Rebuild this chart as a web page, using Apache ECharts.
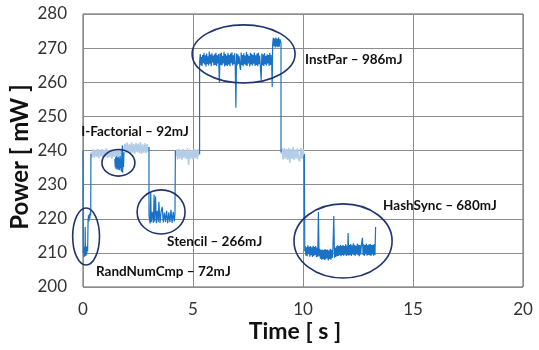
<!DOCTYPE html>
<html><head><meta charset="utf-8">
<script src="https://cdn.jsdelivr.net/npm/echarts@6/dist/echarts.min.js"></script>
<style>html,body{margin:0;padding:0;background:#fff}#c{width:539px;height:350px}</style>
</head><body><div id="c"></div>
<script>
// ---- data (time [s], power [mW]) ----
const benchmarks = ['RandNumCmp', 'I-Factorial', 'Stencil', 'InstPar', 'HashSync'];
const energyMJ = [72, 92, 266, 986, 680];

const randNumCmp = [[0,240],[0.01,210],[0.03,212],[0.05,208.8],[0.07,211.5],[0.09,209],[0.10,217.6],[0.11,212],[0.13,209.2],[0.15,211.8],[0.17,209.5],[0.19,212],[0.21,210.5],[0.23,219.5],[0.25,221],[0.27,219.2],[0.29,221.4],[0.31,220],[0.33,221.8],[0.35,221],[0.36,239]];

const iFactorial = [[1.45,237.5],[1.47,235],[1.49,238],[1.51,234.5],[1.53,238.3],[1.55,234.8],[1.57,237.9],[1.59,234.3],[1.61,238.1],[1.63,234.6],[1.65,237.7],[1.67,234.2],[1.69,238.4],[1.71,234.9],[1.73,237.6],[1.75,233.8],[1.77,239.0],[1.79,241.5],[1.80,233.5],[1.82,237.5],[1.84,235.2],[1.86,239.5]];

const stencil = [[3.00,241],[3.00,221],[3.05,218.6],[3.08,227.6],[3.10,219.0],[3.15,222.0],[3.20,218.8],[3.23,227.0],[3.25,219.2],[3.30,226.5],[3.33,218.7],[3.38,222.3],[3.42,219.0],[3.45,225.0],[3.50,218.8],[3.55,222.1],[3.60,223.5],[3.65,218.9],[3.70,221.8],[3.75,219.1],[3.80,222.3],[3.85,218.7],[3.90,221.9],[3.95,219.0],[4.00,222.6],[4.05,218.8],[4.10,222.0],[4.15,219.2],[4.18,221.5],[4.20,240]];

const instPar = [[5.30,239],[5.30,266],[5.33,268.3],[5.36,265.0],[5.38,267.4],[5.41,264.8],[5.44,268.0],[5.47,265.6],[5.50,268.6],[5.53,265.2],[5.56,267.9],[5.59,264.6],[5.62,268.4],[5.65,265.3],[5.68,267.6],[5.71,264.9],[5.74,269.0],[5.77,265.4],[5.80,268.1],[5.83,264.7],[5.86,268.5],[5.89,265.8],[5.92,267.8],[5.95,264.9],[5.98,268.2],[6.01,265.1],[6.04,268.6],[6.07,264.8],[6.10,267.9],[6.13,265.5],[6.16,268.3],[6.20,259.8],[6.23,268.4],[6.26,265.1],[6.29,268.7],[6.32,264.9],[6.35,267.7],[6.38,265.5],[6.41,268.9],[6.44,264.6],[6.47,268.3],[6.50,265.0],[6.53,267.8],[6.56,264.8],[6.59,268.6],[6.62,265.2],[6.65,268.0],[6.68,264.7],[6.71,268.4],[6.74,265.6],[6.77,268.8],[6.80,264.9],[6.83,267.9],[6.86,265.3],[6.89,268.5],[6.92,265.0],[6.95,252.5],[6.98,268.4],[7.01,264.9],[7.04,268.2],[7.07,265.4],[7.10,267.6],[7.13,264.8],[7.16,263.6],[7.19,268.7],[7.22,265.1],[7.25,268.0],[7.28,264.7],[7.31,268.5],[7.34,265.3],[7.37,267.8],[7.40,265.0],[7.43,268.9],[7.46,264.8],[7.49,268.2],[7.52,265.5],[7.55,267.7],[7.58,264.6],[7.61,268.6],[7.64,265.2],[7.67,268.3],[7.70,264.9],[7.73,268.0],[7.76,265.4],[7.79,268.7],[7.82,264.8],[7.85,267.9],[7.88,265.1],[7.91,268.4],[7.94,264.7],[7.97,268.6],[8.00,265.3],[8.03,267.8],[8.06,264.9],[8.10,260.7],[8.13,268.4],[8.16,265.0],[8.19,268.1],[8.22,264.8],[8.25,268.5],[8.28,265.3],[8.31,267.7],[8.34,264.9],[8.37,268.2],[8.40,265.5],[8.43,268.0],[8.46,264.8],[8.49,268.6],[8.52,265.1],[8.55,268.0],[8.58,264.9],[8.60,258.6],[8.62,271.0],[8.65,273.0],[8.68,270.6],[8.71,272.8],[8.74,270.2],[8.77,273.1],[8.80,270.5],[8.83,272.7],[8.86,270.3],[8.89,273.2],[8.92,270.4],[8.95,272.6],[9.00,271.5],[9.00,239.5]];

const hashSync = [[10.06,239],[10.08,210.5],[10.10,212.0],[10.13,209.2],[10.16,211.6],[10.19,209.0],[10.22,212.2],[10.25,209.6],[10.28,211.8],[10.31,208.9],[10.34,212.0],[10.37,209.3],[10.40,211.6],[10.43,208.8],[10.46,212.1],[10.49,209.1],[10.52,211.7],[10.55,209.4],[10.58,212.0],[10.61,208.7],[10.64,211.5],[10.67,208.9],[10.70,222.0],[10.73,209.0],[10.76,211.2],[10.79,208.3],[10.82,210.9],[10.85,208.0],[10.88,211.0],[10.91,208.2],[10.94,210.8],[10.97,207.9],[11.00,211.1],[11.03,208.1],[11.06,210.9],[11.09,208.4],[11.12,211.0],[11.15,207.8],[11.18,210.7],[11.21,208.2],[11.24,211.2],[11.27,208.0],[11.30,210.9],[11.33,208.5],[11.36,211.3],[11.40,220.8],[11.43,208.6],[11.46,211.5],[11.49,208.8],[11.52,211.9],[11.55,209.0],[11.58,212.2],[11.61,209.1],[11.64,212.0],[11.67,209.3],[11.70,212.4],[11.73,209.0],[11.76,212.1],[11.79,209.4],[11.82,212.3],[11.85,209.2],[11.88,212.0],[11.91,209.5],[11.94,212.5],[11.97,209.1],[12.00,212.1],[12.03,209.3],[12.05,215.8],[12.08,209.2],[12.11,212.3],[12.14,209.4],[12.17,212.6],[12.20,209.1],[12.23,212.2],[12.26,209.5],[12.29,212.8],[12.32,209.3],[12.35,212.4],[12.38,209.2],[12.41,212.1],[12.44,209.6],[12.47,212.7],[12.50,209.3],[12.53,212.4],[12.56,209.0],[12.59,212.3],[12.62,209.5],[12.65,212.1],[12.70,214.4],[12.73,209.4],[12.76,212.5],[12.79,209.1],[12.82,212.3],[12.85,209.6],[12.88,212.7],[12.91,209.2],[12.94,212.2],[12.97,209.4],[13.00,212.5],[13.03,209.3],[13.06,212.6],[13.09,209.1],[13.12,212.3],[13.15,209.5],[13.18,212.4],[13.21,209.2],[13.24,212.6],[13.27,209.4],[13.30,217.6]];

const idle1 = [[0.36,239.5],[0.41,238.0],[0.46,240.3],[0.51,237.9],[0.56,240.1],[0.61,238.2],[0.66,240.5],[0.71,237.7],[0.76,240.0],[0.81,238.3],[0.86,240.4],[0.91,237.9],[0.96,240.2],[1.01,238.1],[1.06,240.6],[1.11,237.8],[1.16,240.1],[1.21,238.0],[1.26,240.3],[1.31,237.6],[1.36,240.2],[1.41,238.2],[1.46,240.4],[1.51,238.0],[1.56,240.1],[1.61,237.9],[1.66,240.5],[1.71,238.1],[1.76,240.2],[1.81,238.0],[1.86,240.5],[1.91,242.0],[1.96,239.2],[2.01,242.3],[2.06,239.4],[2.11,241.8],[2.16,239.0],[2.21,242.4],[2.26,239.3],[2.31,241.9],[2.36,239.1],[2.41,242.2],[2.46,239.5],[2.51,242.0],[2.56,239.2],[2.61,242.5],[2.66,239.0],[2.71,241.8],[2.76,239.4],[2.81,242.1],[2.86,239.2],[2.91,241.9],[2.96,239.6],[3.00,240.8]];
const idle2 = [[4.20,238.5],[4.25,240.3],[4.30,237.4],[4.35,240.5],[4.40,237.6],[4.45,240.1],[4.50,237.3],[4.55,240.4],[4.60,237.8],[4.65,240.2],[4.70,237.5],[4.75,240.6],[4.80,235.8],[4.85,240.3],[4.90,237.6],[4.95,240.1],[5.00,237.4],[5.05,240.5],[5.10,237.7],[5.15,240.2],[5.20,237.5],[5.25,240.4],[5.30,238.6]];
const idle3 = [[9.00,239.0],[9.05,240.6],[9.10,237.4],[9.15,240.8],[9.20,237.6],[9.25,240.4],[9.30,237.3],[9.35,240.7],[9.40,236.4],[9.45,240.5],[9.50,237.5],[9.55,240.9],[9.60,237.2],[9.65,240.3],[9.70,237.7],[9.75,240.6],[9.80,237.4],[9.85,236.8],[9.90,240.7],[9.95,237.5],[10.00,240.4],[10.05,238.4]];

// ---- chart ----
const DARK = '#1a72c6', LIGHT = '#b3cde9', NAVY = '#1f3470';
const FONT = 'Lato, "Open Sans", sans-serif';

function line(data, color, z, w) {
  return { type: 'line', data: data, showSymbol: false, symbol: 'none', z: z,
    lineStyle: { color: color, width: w }, animation: false, silent: true, clip: false };
}

// annotation geometry in data units: centre t, centre P, radius t, radius P, label anchor t, P
const ann = [
  [0.14, 214.8, 0.61, 8.36, 0.59, 204.4],
  [1.61, 236.4, 0.75, 3.9, -0.08, 245.5],
  [3.55, 222.0, 1.09, 6.45, 3.82, 213.2],
  [7.30, 268.3, 2.34, 8.5, 10.09, 266.6],
  [11.82, 213.5, 2.23, 10.85, 13.64, 223.8]
];

const chart = echarts.init(document.getElementById('c'), null, { renderer: 'canvas' });
chart.setOption({
  animation: false,
  backgroundColor: '#fff',
  grid: { left: 83, top: 14, right: 16, bottom: 63, show: true, borderColor: '#5a5a5a', borderWidth: 1,
    containLabel: false, outerBoundsMode: 'none' },
  xAxis: {
    type: 'value', min: 0, max: 20, interval: 5,
    name: 'Time [ s ]', nameLocation: 'middle', nameGap: 33, nameMoveOverlap: false,
    nameTextStyle: { fontFamily: FONT, fontWeight: 'bold', fontSize: 23, color: '#111', padding: [0, 16, 0, 0] },
    axisLine: { show: false }, axisTick: { show: false },
    axisLabel: { fontFamily: FONT, fontSize: 17, color: '#333', margin: 14 },
    splitLine: { show: true, lineStyle: { color: '#8c8c8c', width: 1 } }
  },
  yAxis: {
    type: 'value', min: 200, max: 280, interval: 10,
    name: 'Power [ mW ]', nameLocation: 'middle', nameGap: 51, nameMoveOverlap: false,
    nameTextStyle: { fontFamily: FONT, fontWeight: 'bold', fontSize: 24, color: '#111', padding: [0, 13, 0, 0] },
    axisLine: { show: false }, axisTick: { show: false },
    axisLabel: { fontFamily: FONT, fontSize: 17, color: '#333', margin: 16 },
    splitLine: { show: true, lineStyle: { color: '#8c8c8c', width: 1 } }
  },
  series: [
    line(idle1, LIGHT, 2, 1.6), line(idle2, LIGHT, 2, 1.6), line(idle3, LIGHT, 2, 1.6),
    line(randNumCmp, DARK, 3, 1.2), line(iFactorial, DARK, 3, 1.3), line(stencil, DARK, 3, 1.2),
    line(instPar, DARK, 3, 1.2), line(hashSync, DARK, 3, 1.2),
    {
      type: 'custom', z: 5, silent: true, animation: false, clip: false,
      data: ann.map(function (a, i) { return [a[0], a[1], a[2], a[3], a[4], a[5], i]; }),
      renderItem: function (params, api) {
        const i = params.dataIndex;
        const c = api.coord([api.value(0), api.value(1)]);
        const e = api.coord([api.value(0) + api.value(2), api.value(1) + api.value(3)]);
        const l = api.coord([api.value(4), api.value(5)]);
        return {
          type: 'group',
          children: [
            { type: 'ellipse', shape: { cx: c[0], cy: c[1], rx: Math.abs(e[0] - c[0]), ry: Math.abs(c[1] - e[1]) },
              style: { fill: 'none', stroke: NAVY, lineWidth: 1.6 } },
            { type: 'text', x: l[0], y: l[1],
              style: { text: benchmarks[i] + ' \u2013 ' + energyMJ[i] + 'mJ', fill: '#111',
                font: 'bold 13.5px ' + FONT, align: 'left', verticalAlign: 'middle',
                textAlign: 'left', textVerticalAlign: 'middle' } }
          ]
        };
      }
    }
  ]
});
</script></body></html>
